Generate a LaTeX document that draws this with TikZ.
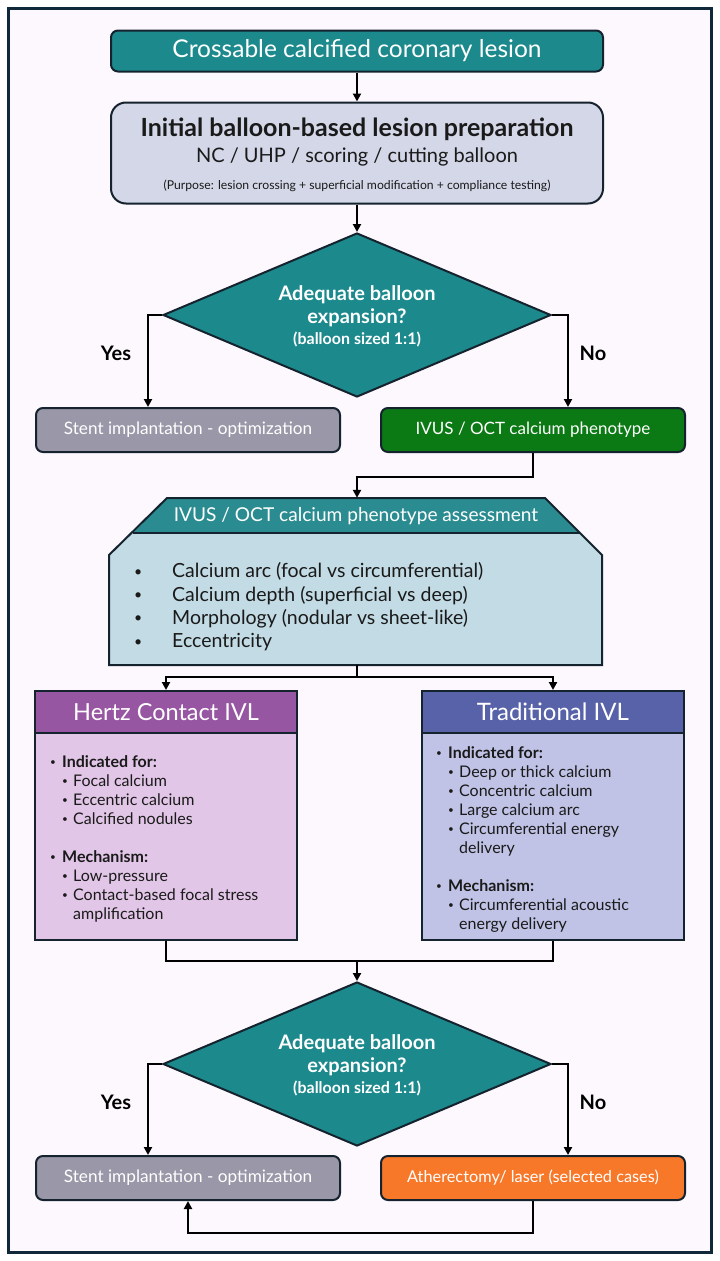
\documentclass[tikz,border=0pt]{standalone}
\usepackage{fontspec}
\setmainfont{Lato}
\usetikzlibrary{shapes.geometric,arrows.meta}
\definecolor{frameC}{HTML}{10293A}
\definecolor{bgC}{HTML}{FDF8FD}
\definecolor{edgeC}{HTML}{15232E}
\definecolor{tealC}{HTML}{1C898D}
\definecolor{tealH}{HTML}{2A8C90}
\definecolor{prepC}{HTML}{D3D7E7}
\definecolor{grayC}{HTML}{9A97A8}
\definecolor{greenC}{HTML}{0B7A14}
\definecolor{hexC}{HTML}{C2DBE4}
\definecolor{purpH}{HTML}{9656A2}
\definecolor{purpB}{HTML}{E2C6E7}
\definecolor{blueH}{HTML}{5862A9}
\definecolor{blueB}{HTML}{C0C3E6}
\definecolor{orangeC}{HTML}{F8782A}
\definecolor{txtC}{HTML}{1A1A1A}
\newcommand\smallbul{\raisebox{0.12em}{\fontsize{10}{10}\selectfont\textbullet}}
\newcommand\midbul{\raisebox{0.08em}{\fontsize{14}{14}\selectfont\textbullet}}
\newcommand\bA[1]{\makebox[12pt][l]{\smallbul}\textbf{#1}}
\newcommand\bB[1]{\hspace*{12pt}\makebox[11pt][l]{\smallbul}#1}
\newcommand\bC[1]{\hspace*{23pt}#1}
\tikzset{
  conn/.style={line width=2pt, draw=black},
  arr/.style={conn, -{Triangle[length=8pt,width=8pt]}},
  boxbase/.style={draw=edgeC, line width=2pt, inner sep=0pt},
  roundbox/.style={boxbase, rounded corners=7pt, minimum width=304pt, minimum height=44pt, text=white, font=\fontsize{17.2}{20}\selectfont},
  decision/.style={diamond, draw=edgeC, line width=2pt, fill=tealC, minimum width=388pt, minimum height=164pt, inner sep=0pt},
  dtext/.style={text=white, font=\bfseries\fontsize{20}{23}\selectfont},
  dsmall/.style={text=white, font=\bfseries\fontsize{16}{19}\selectfont},
  yn/.style={text=black, font=\bfseries\fontsize{20}{23}\selectfont},
  headbox/.style={boxbase, minimum width=262pt, minimum height=42pt, text=white, font=\fontsize{23.5}{26}\selectfont},
  bodybox/.style={boxbase, minimum width=262pt, minimum height=249pt},
  listtext/.style={text=txtC, inner sep=0pt, anchor=west, font=\fontsize{16}{19}\selectfont}
}
\begin{document}
\begin{tikzpicture}[x=1pt,y=-1pt]
\useasboundingbox (0,0) rectangle (720,1261);
\fill[white] (0,0) rectangle (720,1261);
\draw[frameC, line width=3pt, fill=bgC] (8,8) rectangle (711,1252);

% top
\node[boxbase, rounded corners=7pt, fill=tealC, minimum width=492pt, minimum height=41pt, text=white, font=\fontsize{24.5}{27}\selectfont] (start) at (357,51) {Crossable calcified coronary lesion};

% preparation box
\node[boxbase, rounded corners=15pt, fill=prepC, minimum width=492pt, minimum height=101pt] (prep) at (357,153) {};
\node[text=txtC, font=\bfseries\fontsize{25}{28}\selectfont] (prepA) at (357,129) {Initial balloon-based lesion preparation};
\node[text=txtC, font=\fontsize{20}{23}\selectfont] (prepB) at (357,157) {NC / UHP / scoring / cutting balloon};
\node[text=txtC, font=\fontsize{12.2}{14}\selectfont] (prepC) at (357,186) {(Purpose: lesion crossing + superficial modification + compliance testing)};

% decision 1
\node[decision] (d1) at (357,315) {};
\node[dtext] (d1a) at (357,295) {Adequate balloon};
\node[dtext] (d1b) at (357,318) {expansion?};
\node[dsmall] (d1c) at (357,339) {(balloon sized 1:1)};
\node[yn] (yes1) at (116,353) {Yes};
\node[yn] (no1) at (593,353) {No};

\node[roundbox, fill=grayC] (stent1) at (188,430) {Stent implantation - optimization};
\node[roundbox, fill=greenC, font=\fontsize{17}{20}\selectfont] (ivus) at (533,430) {IVUS / OCT calcium phenotype};

% hex assessment
\node[minimum width=493pt, minimum height=167pt, inner sep=0pt] (hex) at (356,581.5) {};
\fill[hexC] (167,498) -- (545,498) -- (602,555) -- (602,665) -- (109,665) -- (109,555) -- cycle;
\fill[tealH] (167,498) -- (545,498) -- (580,533) -- (133,533) -- cycle;
\draw[edgeC, line width=2pt] (133,533) -- (580,533);
\draw[edgeC, line width=2pt, line join=miter] (167,498) -- (545,498) -- (602,555) -- (602,665) -- (109,665) -- (109,555) -- cycle;
\node[text=white, font=\fontsize{19.1}{22}\selectfont] (hexhead) at (356,516) {IVUS / OCT calcium phenotype assessment};
\node[text=txtC, inner sep=0pt, anchor=west, font=\fontsize{19.5}{23.3}\selectfont] (hexlist) at (134,608) {\begin{tabular}{@{}p{38pt}@{}l@{}}
\midbul & Calcium arc (focal vs circumferential)\\
\midbul & Calcium depth (superficial vs deep)\\
\midbul & Morphology (nodular vs sheet-like)\\
\midbul & Eccentricity
\end{tabular}};

% IVL boxes
\node[bodybox, fill=purpB] (hertz) at (166,815.5) {};
\node[headbox, fill=purpH] (hertzhead) at (166,712) {Hertz Contact IVL};
\node[listtext] (hertzlist) at (50,840) {\begin{tabular}{@{}l@{}}
\bA{Indicated for:}\\
\bB{Focal calcium}\\
\bB{Eccentric calcium}\\
\bB{Calcified nodules}\\[19pt]
\bA{Mechanism:}\\
\bB{Low-pressure}\\
\bB{Contact-based focal stress}\\
\bC{amplification}
\end{tabular}};

\node[bodybox, fill=blueB] (trad) at (553,815.5) {};
\node[headbox, fill=blueH, font=\fontsize{24}{27}\selectfont] (tradhead) at (553,712) {Traditional IVL};
\node[listtext] (tradlist) at (436,840) {\begin{tabular}{@{}l@{}}
\bA{Indicated for:}\\
\bB{Deep or thick calcium}\\
\bB{Concentric calcium}\\
\bB{Large calcium arc}\\
\bB{Circumferential energy}\\
\bC{delivery}\\[19pt]
\bA{Mechanism:}\\
\bB{Circumferential acoustic}\\
\bC{energy delivery}
\end{tabular}};

% decision 2
\node[decision] (d2) at (357,1064) {};
\node[dtext] (d2a) at (357,1044) {Adequate balloon};
\node[dtext] (d2b) at (357,1067) {expansion?};
\node[dsmall] (d2c) at (357,1088) {(balloon sized 1:1)};
\node[yn] (yes2) at (116,1102) {Yes};
\node[yn] (no2) at (593,1102) {No};

\node[roundbox, fill=grayC] (stent2) at (188,1178) {Stent implantation - optimization};
\node[roundbox, fill=orangeC, font=\fontsize{16.3}{19}\selectfont] (ather) at (533,1178) {Atherectomy/ laser (selected cases)};

% connectors
\draw[arr] (start.south) -- (prep.north);
\draw[arr] (prep.south) -- (d1.north);
\draw[arr] (d1.west) -| ([xshift=-40pt]stent1.north);
\draw[arr] (d1.east) -| ([xshift=35pt]ivus.north);
\draw[arr] (ivus.south) -- ++(0,24) -| ([xshift=1pt]hex.north);
\draw[conn] ([xshift=1pt]hex.south) -- ++(0,12) coordinate (split);
\draw[arr] (split) -| (hertz.north);
\draw[arr] (split) -| (trad.north);
\draw[conn] (hertz.south) -- ++(0,20) coordinate (m1) -- (m1 -| trad.south) -- (trad.south);
\draw[arr] (m1 -| d2.north) -- (d2.north);
\draw[arr] (d2.west) -| ([xshift=-40pt]stent2.north);
\draw[arr] (d2.east) -| ([xshift=35pt]ather.north);
\draw[arr] (ather.south) -- ++(0,32) -| (stent2.south);
\end{tikzpicture}
\end{document}
